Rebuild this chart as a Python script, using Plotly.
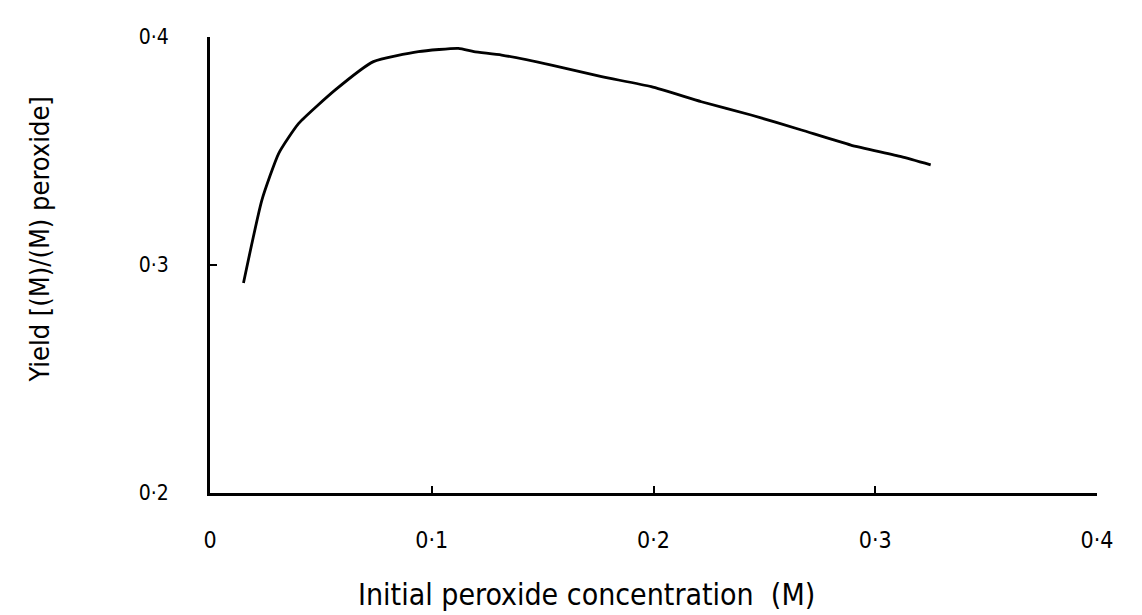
"""
Yield vs initial peroxide concentration
"""

import plotly.graph_objects as go

# values
conc = [0.0151, 0.0234, 0.031, 0.040, 0.0565, 0.0737, 0.094, 0.112, 0.119,
        0.1315, 0.154, 0.1766, 0.199, 0.2216, 0.244, 0.2667, 0.289, 0.3117, 0.325]
yield_ = [0.2921, 0.3285, 0.3490, 0.3621, 0.3768, 0.3892, 0.3936, 0.3950, 0.3936,
          0.3921, 0.3877, 0.3826, 0.3782, 0.3716, 0.3658, 0.3592, 0.3526, 0.3475, 0.3439]

x_ticks = [0, 0.1, 0.2, 0.3, 0.4]
x_labels = ["0", "0·1", "0·2", "0·3", "0·4"]
y_ticks = [0.2, 0.3, 0.4]
y_labels = ["0·2", "0·3", "0·4"]

font = "DejaVu Sans Condensed, DejaVu Sans"

fig = go.Figure()
fig.add_trace(go.Scatter(
    x=conc,
    y=yield_,
    mode='lines',
    line=dict(color='black', width=2.8, shape='spline', smoothing=0.5),
    showlegend=False
))

# axis titles placed as annotations so they sit where the original has them
fig.add_annotation(
    text="Initial peroxide concentration  (M)",
    xref='paper', yref='paper', x=0.424, y=-0.222,
    xanchor='center', yanchor='middle', showarrow=False,
    font=dict(size=30)
)
fig.add_annotation(
    text="Yield [(M)/(M) peroxide]",
    xref='paper', yref='paper', x=-0.192, y=0.555,
    xanchor='center', yanchor='middle', showarrow=False,
    textangle=-90, font=dict(size=27)
)

# page body has an 8px margin, so shrink the figure to keep the plot box in place
fig.update_layout(
    width=1134,
    height=607,
    margin=dict(l=202, r=45, t=29, b=122),
    paper_bgcolor='white',
    plot_bgcolor='white',
    font=dict(family=font, color='black', size=20),
    xaxis=dict(
        range=[0, 0.4],
        tickvals=x_ticks,
        ticktext=x_labels,
        tickfont=dict(size=23),
        showgrid=False,
        zeroline=False,
        showline=True,
        linecolor='black',
        linewidth=2.8,
        ticks='inside',
        ticklen=7,
        tickwidth=2,
        tickcolor='black',
        ticklabelstandoff=24,
    ),
    yaxis=dict(
        range=[0.2, 0.4],
        tickvals=y_ticks,
        ticktext=y_labels,
        tickfont=dict(size=21),
        showgrid=False,
        zeroline=False,
        showline=True,
        linecolor='black',
        linewidth=2.8,
        ticks='inside',
        ticklen=7,
        tickwidth=2,
        tickcolor='black',
        ticklabelstandoff=34,
    ),
)

fig.write_html("out.html")
